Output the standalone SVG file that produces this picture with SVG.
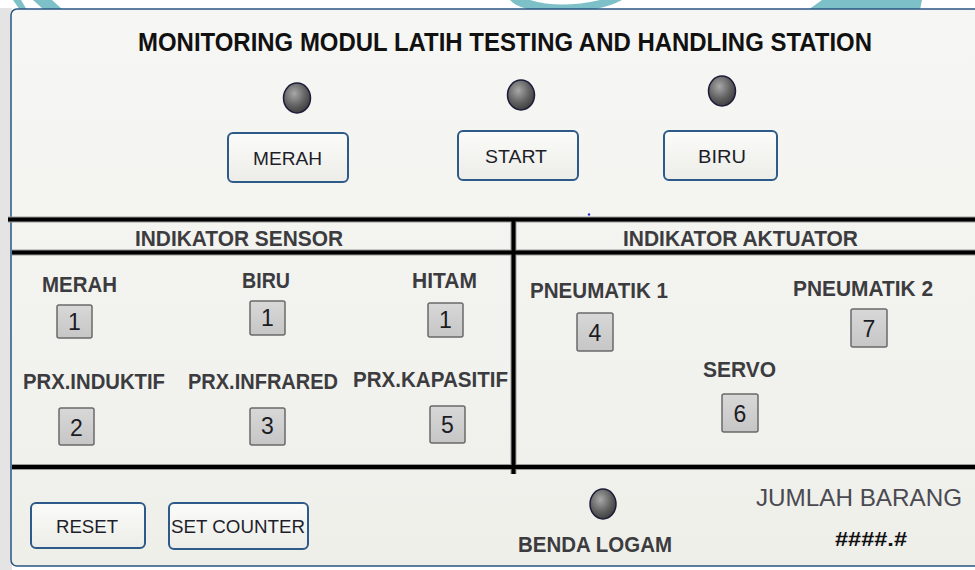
<svg xmlns="http://www.w3.org/2000/svg" width="975" height="570" viewBox="0 0 975 570">
<style>
.btn{fill:url(#btnG);stroke:#2d5a88;stroke-width:2}
.btxt{font-family:"Liberation Sans",Arial,sans-serif;font-size:19px;fill:#1e1e2a;text-anchor:start}
.lbl{font-family:"Liberation Sans",Arial,sans-serif;font-size:22px;font-weight:bold;fill:#3c3c40}
.box{fill:url(#boxG);stroke:#6a6a6a;stroke-width:1.5}
.num{font-family:"Liberation Sans",Arial,sans-serif;font-size:23px;fill:#1c1c24;text-anchor:middle}
.led{fill:url(#ledG);stroke:#1c1c3a;stroke-width:1.5}
.div{stroke:#000;stroke-width:4}
.divs{stroke:#9a9a9a;stroke-width:6}
.teal{fill:#7ec0c7}
</style>
<defs>
<linearGradient id="btnG" x1="0" y1="0" x2="0" y2="1"><stop offset="0" stop-color="#fbfbf9"/><stop offset="1" stop-color="#ecece8"/></linearGradient>
<linearGradient id="boxG" x1="0" y1="0" x2="0" y2="1"><stop offset="0" stop-color="#d8d8d8"/><stop offset="1" stop-color="#c6c6c6"/></linearGradient>
<linearGradient id="panG" x1="0" y1="0" x2="0" y2="1"><stop offset="0" stop-color="#f6f6f4"/><stop offset="1" stop-color="#efefea"/></linearGradient>
<radialGradient id="ledG" cx="0.4" cy="0.35" r="0.7"><stop offset="0" stop-color="#a8a8a8"/><stop offset="0.6" stop-color="#606060"/><stop offset="1" stop-color="#3a3a3a"/></radialGradient>
</defs>
<rect x="0" y="0" width="975" height="570" fill="#ffffff"/>
<g id="decor">
<path class="teal" d="M13 0 L21 0 L27 10 L20 10 Z"/>
<path class="teal" d="M33 0 L52 0 L63 10 L44 10 Z"/>
<path class="teal" d="M510 0 L530 0 Q560 9 600 0 L622 0 Q600 12 560 12 Q520 12 510 0 Z"/>
<path class="teal" d="M822 0 L922 0 L920 10 L808 10 Z"/>
<rect x="0" y="8" width="12" height="562" fill="#e4e4e4"/>
</g>
<g id="panel">
<rect x="11" y="9" width="990" height="557" rx="6" fill="url(#panG)" stroke="#2a5582" stroke-width="1.5"/>
</g>
<g id="dividers">
<line class="divs" x1="8" y1="219.5" x2="975" y2="219.5"/>
<line class="divs" x1="12" y1="252.5" x2="975" y2="252.5"/>
<line class="divs" x1="12" y1="467" x2="975" y2="467"/>
<line class="divs" x1="513.5" y1="219" x2="513.5" y2="474"/>
<line class="div" x1="8" y1="219.5" x2="975" y2="219.5"/>
<line class="div" x1="12" y1="252.5" x2="975" y2="252.5"/>
<line class="div" x1="12" y1="467" x2="975" y2="467"/>
<line class="div" x1="513.5" y1="219" x2="513.5" y2="474"/>
<circle cx="589" cy="214.5" r="1.2" fill="#2030d0"/>
</g>
<g id="title">
<text x="138" y="51" textLength="734" lengthAdjust="spacingAndGlyphs" style="font-family:'Liberation Sans',Arial,sans-serif;font-size:26px;font-weight:bold;fill:#111">MONITORING MODUL LATIH TESTING AND HANDLING STATION</text>
</g>
<g id="led-merah"><ellipse class="led" cx="297" cy="98" rx="13.5" ry="15"/></g>
<g id="led-start"><ellipse class="led" cx="521" cy="95" rx="13.5" ry="15"/></g>
<g id="led-biru"><ellipse class="led" cx="722" cy="91" rx="13.5" ry="15"/></g>
<g id="btn-merah"><rect class="btn" x="228" y="133" width="120" height="49" rx="5"/><text class="btxt" x="253" y="165" textLength="69" lengthAdjust="spacingAndGlyphs">MERAH</text></g>
<g id="btn-start"><rect class="btn" x="458" y="131" width="120" height="49" rx="5"/><text class="btxt" x="485" y="163" textLength="62" lengthAdjust="spacingAndGlyphs">START</text></g>
<g id="btn-biru"><rect class="btn" x="664" y="131" width="113" height="49" rx="5"/><text class="btxt" x="698" y="163" textLength="48" lengthAdjust="spacingAndGlyphs">BIRU</text></g>
<g id="hdr-sensor"><text class="lbl" x="135" y="246" textLength="208" lengthAdjust="spacingAndGlyphs">INDIKATOR SENSOR</text></g>
<g id="hdr-aktuator"><text class="lbl" x="623" y="246" textLength="235" lengthAdjust="spacingAndGlyphs">INDIKATOR AKTUATOR</text></g>
<g id="s-merah"><text class="lbl" x="42" y="292" textLength="75" lengthAdjust="spacingAndGlyphs">MERAH</text><rect class="box" x="57" y="305" width="35" height="33" rx="2"/><text class="num" x="74.5" y="330">1</text></g>
<g id="s-biru"><text class="lbl" x="242" y="288" textLength="48" lengthAdjust="spacingAndGlyphs">BIRU</text><rect class="box" x="250" y="301" width="35" height="34" rx="2"/><text class="num" x="267.5" y="326">1</text></g>
<g id="s-hitam"><text class="lbl" x="412" y="288" textLength="65" lengthAdjust="spacingAndGlyphs">HITAM</text><rect class="box" x="428" y="303" width="35" height="34" rx="2"/><text class="num" x="445.5" y="328">1</text></g>
<g id="s-induktif"><text class="lbl" x="23" y="389" textLength="142" lengthAdjust="spacingAndGlyphs">PRX.INDUKTIF</text><rect class="box" x="59" y="408" width="35" height="37" rx="2"/><text class="num" x="76.5" y="436">2</text></g>
<g id="s-infrared"><text class="lbl" x="188" y="389" textLength="150" lengthAdjust="spacingAndGlyphs">PRX.INFRARED</text><rect class="box" x="250" y="408" width="35" height="37" rx="2"/><text class="num" x="267.5" y="434">3</text></g>
<g id="s-kapasitif"><text class="lbl" x="353" y="387" textLength="155" lengthAdjust="spacingAndGlyphs">PRX.KAPASITIF</text><rect class="box" x="430" y="406" width="35" height="37" rx="2"/><text class="num" x="447.5" y="433">5</text></g>
<g id="a-pneu1"><text class="lbl" x="530" y="298" textLength="138" lengthAdjust="spacingAndGlyphs">PNEUMATIK 1</text><rect class="box" x="577" y="313" width="36" height="38" rx="2"/><text class="num" x="595" y="341">4</text></g>
<g id="a-pneu2"><text class="lbl" x="793" y="296" textLength="140" lengthAdjust="spacingAndGlyphs">PNEUMATIK 2</text><rect class="box" x="851" y="309" width="36" height="38" rx="2"/><text class="num" x="869" y="337">7</text></g>
<g id="a-servo"><text class="lbl" x="703" y="377" textLength="73" lengthAdjust="spacingAndGlyphs">SERVO</text><rect class="box" x="722" y="394" width="36" height="38" rx="2"/><text class="num" x="740" y="422">6</text></g>
<g id="btn-reset"><rect class="btn" x="31" y="503" width="114" height="45" rx="5"/><text class="btxt" x="56" y="533" textLength="62" lengthAdjust="spacingAndGlyphs">RESET</text></g>
<g id="btn-setcounter"><rect class="btn" x="169" y="503" width="139" height="46" rx="5"/><text class="btxt" x="171" y="533" textLength="134" lengthAdjust="spacingAndGlyphs">SET COUNTER</text></g>
<g id="benda-logam"><ellipse class="led" cx="603" cy="504" rx="13" ry="15"/><text class="lbl" x="518" y="552" textLength="154" lengthAdjust="spacingAndGlyphs">BENDA LOGAM</text></g>
<g id="jumlah-barang"><text x="756" y="506" textLength="206" lengthAdjust="spacingAndGlyphs" style="font-family:'Liberation Sans',Arial,sans-serif;font-size:24px;fill:#4a4a52">JUMLAH BARANG</text><text x="835" y="546" textLength="72" lengthAdjust="spacingAndGlyphs" style="font-family:'Liberation Sans',Arial,sans-serif;font-size:20px;font-weight:bold;fill:#111">####.#</text></g>
</svg>
